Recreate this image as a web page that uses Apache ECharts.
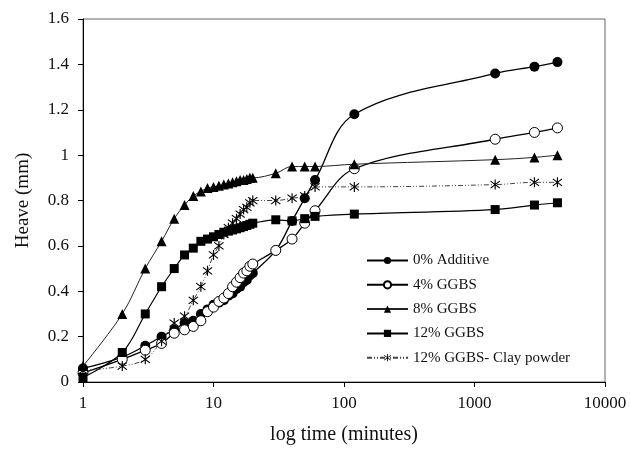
<!DOCTYPE html>
<html>
<head>
<meta charset="utf-8">
<script src="https://cdn.jsdelivr.net/npm/echarts@6/dist/echarts.min.js"></script>
<style>html,body{margin:0;padding:0;background:#fff}#c{width:630px;height:450px}</style>
</head>
<body>
<div id="c"></div>
<script>
var times = [1,2,3,4,5,6,7,8,9,10,11,12,13,14,15,16,17,18,19,20,30,40,50,60,120,1440,2880,4320];
var additive0 = [0.06,0.11,0.16,0.20,0.23,0.26,0.27,0.30,0.32,0.34,0.35,0.36,0.38,0.39,0.41,0.42,0.44,0.45,0.47,0.48,0.58,0.71,0.81,0.89,1.18,1.36,1.39,1.41];
var ggbs4 = [0.04,0.10,0.14,0.17,0.215,0.23,0.245,0.27,0.31,0.33,0.355,0.37,0.39,0.42,0.44,0.46,0.48,0.49,0.51,0.52,0.58,0.63,0.70,0.755,0.94,1.07,1.10,1.12];
var ggbs8 = [0.07,0.30,0.50,0.62,0.72,0.78,0.82,0.84,0.855,0.86,0.865,0.87,0.875,0.88,0.885,0.89,0.89,0.895,0.90,0.90,0.92,0.95,0.95,0.95,0.96,0.98,0.99,1.00];
var ggbs12 = [0.02,0.13,0.30,0.42,0.50,0.56,0.59,0.62,0.63,0.64,0.65,0.66,0.665,0.67,0.675,0.68,0.685,0.69,0.695,0.70,0.715,0.71,0.72,0.73,0.74,0.76,0.78,0.79];
var clay12 = [0.05,0.07,0.10,0.18,0.26,0.29,0.36,0.42,0.49,0.56,0.60,0.65,0.68,0.70,0.72,0.74,0.76,0.77,0.79,0.80,0.80,0.81,0.82,0.86,0.86,0.87,0.88,0.88];
var seriesNames = ['0% Additive','4% GGBS','8% GGBS','12% GGBS','12% GGBS- Clay powder'];
var xTicks = [1,10,100,1000,10000];

function pairs(v){ return times.map(function(t,i){ return [t, v[i]]; }); }
var star = 'path://M9,0L11,0L11,20L9,20Z M1.34,3.75L2.66,2.25L18.66,16.25L17.34,17.75Z M2.66,17.75L1.34,16.25L17.34,2.25L18.66,3.75Z';
var serif = 'Liberation Serif';

var chart = echarts.init(document.getElementById('c'));
function mk(name, data, symbol, size, fill, line){
  return {
    name: name, type: 'line', data: pairs(data), smooth: 0.35,
    symbol: symbol, symbolSize: size, showSymbol: true,
    lineStyle: line,
    itemStyle: {color: fill, borderColor: '#000', borderWidth: (fill === '#fff') ? 1 : 0},
    emphasis: {disabled: true}, animation: false
  };
}
chart.setOption({
  animation: false,
  backgroundColor: '#fff',
  grid: {left: 83, right: 25, top: 19, bottom: 66, show: true, borderColor: '#666', borderWidth: 1},
  legend: {
    orient: 'vertical', left: 361, top: 248, itemWidth: 41, itemHeight: 9, itemGap: 9.3,
    textStyle: {fontFamily: serif, fontSize: 15, color: '#111'},
    data: seriesNames
  },
  xAxis: {
    type: 'log', logBase: 10, min: 1, max: 10000,
    name: 'log time (minutes)', nameLocation: 'middle', nameGap: 43,
    nameTextStyle: {fontFamily: serif, fontSize: 20, color: '#111'},
    axisLine: {lineStyle: {color: '#000', width: 1}},
    axisTick: {show: true, inside: false, length: 5, lineStyle: {color: '#000'}},
    minorTick: {show: false},
    splitLine: {show: false},
    axisLabel: {fontFamily: serif, fontSize: 17, color: '#111', margin: 13,
      formatter: function(v){ return xTicks.indexOf(Math.round(v)) >= 0 ? String(Math.round(v)) : ''; }}
  },
  yAxis: {
    type: 'value', min: 0, max: 1.6, interval: 0.2,
    name: 'Heave (mm)', nameLocation: 'middle', nameGap: 50,
    nameTextStyle: {fontFamily: serif, fontSize: 19, color: '#111'},
    axisLine: {show: true, lineStyle: {color: '#000', width: 1}},
    axisTick: {show: true, inside: false, length: 5, lineStyle: {color: '#000'}},
    splitLine: {show: false},
    axisLabel: {fontFamily: serif, fontSize: 17, color: '#111', margin: 14,
      formatter: function(v){ return String(Math.round(v*10)/10); }}
  },
  series: [
    mk(seriesNames[0], additive0, 'circle', 10, '#000', {color: '#000', width: 1.3}),
    mk(seriesNames[1], ggbs4, 'circle', 10, '#fff', {color: '#000', width: 1.3}),
    mk(seriesNames[2], ggbs8, 'triangle', 10, '#000', {color: '#222', width: 1}),
    mk(seriesNames[3], ggbs12, 'rect', 9, '#000', {color: '#000', width: 1.2}),
    mk(seriesNames[4], clay12, star, 10, '#000', {color: '#444', width: 1, type: [5,2,1,2,1,2]})
  ]
});
</script>
</body>
</html>
